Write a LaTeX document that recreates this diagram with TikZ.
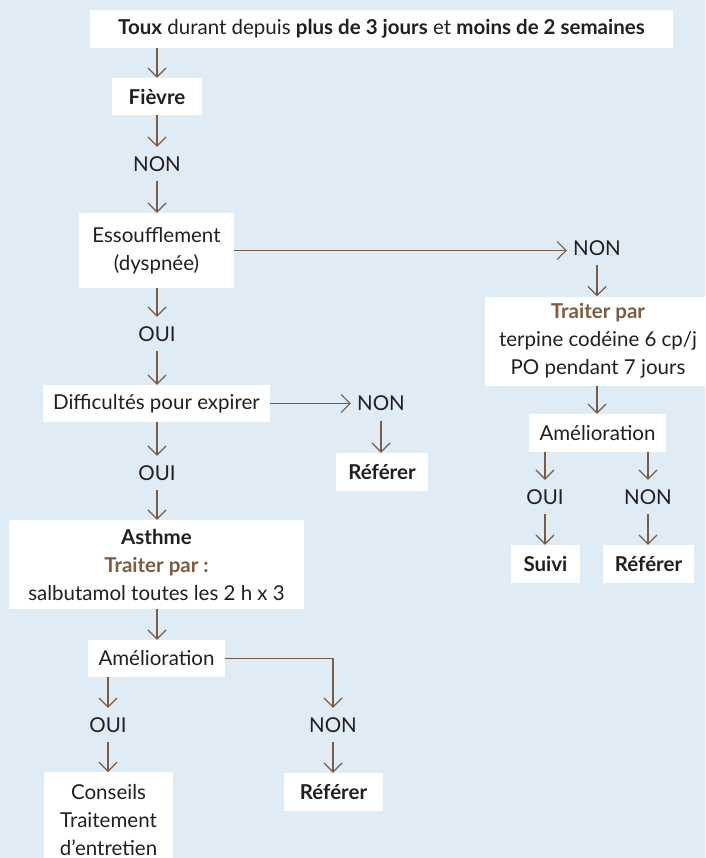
\documentclass[tikz,border=0pt]{standalone}
\usepackage{fontspec}
\setmainfont{Lato}
\usetikzlibrary{arrows.meta}
\definecolor{bgblue}{RGB}{223,236,245}
\definecolor{arrbrown}{RGB}{122,92,70}
\definecolor{titlebrown}{RGB}{125,92,66}
\definecolor{txt}{RGB}{35,31,32}
\begin{document}
\begin{tikzpicture}[x=1pt,y=-1pt,
  every node/.style={font=\fontsize{20.5}{28}\selectfont, text=txt},
  box/.style={fill=white, inner sep=0pt, align=center},
  lbl/.style={inner xsep=6pt, inner ysep=0pt, minimum height=34pt},
  arr/.style={draw=arrbrown, line width=1.2pt, -{Straight Barb[length=9pt,width=18pt]}}]
\useasboundingbox (0,0) rectangle (705,858);
\fill[bgblue] (0,0) rectangle (705,858);
\clip (0,0) rectangle (705,858);

\node[box, minimum width=583pt, minimum height=38pt] (top) at (381.5,29) {\textbf{Toux} durant depuis \textbf{plus de 3 jours} et \textbf{moins de 2 semaines}};
\node[box, minimum width=90pt, minimum height=37pt] (fievre) at (157,96.5) {\textbf{Fièvre}};
\node[lbl] (non1) at (157,164) {NON};
\node[box, minimum width=155pt, minimum height=75pt] (ess) at (156.5,250.5) {Essoufflement\\(dyspnée)};
\node[lbl] (oui1) at (157,334) {OUI};
\node[box, minimum width=227pt, minimum height=37pt] (diff) at (156.5,403.5) {Difficultés pour expirer};
\node[lbl] (non2) at (381,403.5) {NON};
\node[box, minimum width=92pt, minimum height=38pt] (ref1) at (382,472) {\textbf{Référer}};
\node[lbl] (oui2) at (157,473) {OUI};
\node[box, minimum width=295pt, minimum height=89pt] (asthme) at (156.5,564.5) {\textbf{Asthme}\\\textcolor{titlebrown}{\textbf{Traiter par :}}\\salbutamol toutes les 2 h x 3};
\node[box, minimum width=137pt, minimum height=37pt] (amel1) at (156.5,658.5) {Amélioration};
\node[lbl] (oui3) at (108,725) {OUI};
\node[lbl] (non3) at (333,725) {NON};
\node[box, minimum width=129pt, minimum height=95pt, anchor=north] (cons) at (108.5,772) {Conseils\\Traitement\\d'entretien};
\node[box, minimum width=99pt, minimum height=38pt] (ref2) at (333.5,792) {\textbf{Référer}};
\node[lbl] (non4) at (597,248) {NON};
\node[box, minimum width=226pt, minimum height=89pt] (trait) at (598,341) {\textcolor{titlebrown}{\textbf{Traiter par}}\\terpine codéine 6 cp/j\\PO pendant 7 jours};
\node[box, minimum width=137pt, minimum height=38pt] (amel2) at (597.5,433) {Amélioration};
\node[lbl] (oui4) at (545,497) {OUI};
\node[lbl] (non5) at (648,497) {NON};
\node[box, minimum width=69pt, minimum height=38pt] (suivi) at (545.5,564) {\textbf{Suivi}};
\node[box, minimum width=91pt, minimum height=38pt] (ref3) at (648.5,564) {\textbf{Référer}};

\draw[arr] (fievre.north |- top.south) -- (fievre.north);
\draw[arr] (fievre.south) -- (fievre.south |- non1.north);
\draw[arr] (non1.south) -- (non1.south |- ess.north);
\draw[arr] (oui1.north |- ess.south) -- (oui1.north);
\draw[arr] (oui1.south) -- (oui1.south |- diff.north);
\draw[arr] (diff.east) -- (diff.east -| non2.west);
\draw[arr] (non2.south) -- (non2.south |- ref1.north);
\draw[arr] (oui2.north |- diff.south) -- (oui2.north);
\draw[arr] (oui2.south) -- (oui2.south |- asthme.north);
\draw[arr] (oui2.south |- asthme.south) -- (oui2.south |- amel1.north);
\draw[arr] (oui3.north |- amel1.south) -- (oui3.north);
\draw[arr] (amel1.east) -| (non3.north);
\draw[arr] (oui3.south) -- (oui3.south |- cons.north);
\draw[arr] (non3.south) -- (non3.south |- ref2.north);
\draw[arr] (ess.east) -- (ess.east -| non4.west);
\draw[arr] (non4.south) -- (non4.south |- trait.north);
\draw[arr] (non4.south |- trait.south) -- (non4.south |- amel2.north);
\draw[arr] (oui4.north |- amel2.south) -- (oui4.north);
\draw[arr] (non5.north |- amel2.south) -- (non5.north);
\draw[arr] (oui4.south) -- (oui4.south |- suivi.north);
\draw[arr] (non5.south) -- (non5.south |- ref3.north);
\end{tikzpicture}
\end{document}
